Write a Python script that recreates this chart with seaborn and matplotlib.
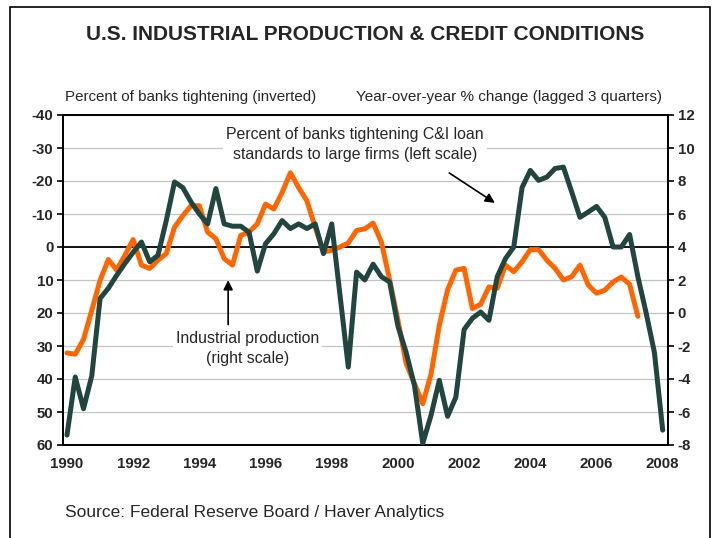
import numpy as np
import pandas as pd
import matplotlib
matplotlib.use("Agg")
import matplotlib.pyplot as plt
import seaborn as sns
from matplotlib.patches import Rectangle

# ==========================================
# DATA (quarterly)
# ==========================================

start_year = 1990

# Percent of banks tightening C&I loan standards (left scale, inverted)
banks_tightening = [
    57, 39.4, 49, 39, 15.6, 12.5, 8.6, 5, 1.6, -1.5,
    4.5, 2.5, -8, -19.7, -18, -13.6, -10, -7, -17.7, -7,
    -6.3, -6.3, -4.5, 7.3, -1, -4, -8, -5.6, -7, -5.6,
    -7, 2, -7, 14.6, 36.4, 7.6, 10, 5.2, 9, 10.6,
    24, 32, 42, 59.5, 51, 40.4, 51.3, 45.5, 25, 21.6,
    19.7, 22.2, 9, 3.5, 0, -18, -23.2, -20.2, -21.2, -23.8,
    -24.2, -16.7, -9, -10.6, -12.3, -9, 0, 0, -3.8, 9,
    20, 32, 55.5,
]

# Industrial production, y/y % change lagged 3 quarters (right scale)
industrial_production = [
    -2.42, -2.5, -1.6, 0.16, 1.98, 3.24, 2.6, 3.5, 4.45, 2.9,
    2.7, 3.2, 3.6, 5.2, 5.9, 6.5, 6.5, 4.9, 4.5, 3.3,
    2.9, 4.7, 4.9, 5.4, 6.6, 6.3, 7.3, 8.5, 7.6, 6.8,
    5.2, 3.7, 3.8, 4.0, 4.24, 5.0, 5.1, 5.45, 4.3, 2.0,
    -0.44, -3.07, -4.28, -5.5, -3.7, -0.75, 1.4, 2.6, 2.7, 0.27,
    0.53, 1.58, 1.5, 2.9, 2.5, 3.1, 3.84, 3.84, 3.2, 2.7,
    2.0, 2.2, 2.9, 1.7, 1.2, 1.38, 1.88, 2.18, 1.74, -0.2,
]

left_ticks = [-40, -30, -20, -10, 0, 10, 20, 30, 40, 50, 60]
right_ticks = [12, 10, 8, 6, 4, 2, 0, -2, -4, -6, -8]
year_ticks = [1990, 1992, 1994, 1996, 1998, 2000, 2002, 2004, 2006, 2008]

banks_df = pd.DataFrame({
    'date': start_year + np.arange(len(banks_tightening)) / 4,
    'value': banks_tightening,
})
ip_df = pd.DataFrame({
    'date': start_year + np.arange(len(industrial_production)) / 4,
    'value': industrial_production,
})

# ==========================================
# STYLE
# ==========================================

sns.set_style("white")
plt.rcParams['font.family'] = ['Liberation Sans', 'DejaVu Sans']
plt.rcParams['axes.unicode_minus'] = False

green = '#234540'
orange = '#FF6600'

W, H = 712, 538
fig = plt.figure(figsize=(W / 100, H / 100), dpi=100)

# axes box in pixels: x 63..668, y 115..445
ax2 = fig.add_axes([63 / W, 1 - 445 / H, (668 - 63) / W, (445 - 115) / H])
ax = ax2.twinx()
ax.yaxis.tick_left()
ax2.yaxis.tick_right()

# ==========================================
# RIGHT SCALE (bottom layer): grid, zero line, orange
# ==========================================

for t in right_ticks:
    if t != 4:
        ax2.axhline(t, color='#C4C4C4', lw=0.9, zorder=0)
ax2.axhline(4, color='black', lw=1.3, zorder=1)

sns.lineplot(data=ip_df, x='date', y='value', ax=ax2, color=orange,
             lw=3.6, zorder=3, legend=False)
ax2.set_ylim(-8, 12)
ax2.set_yticks(right_ticks)

# ==========================================
# LEFT SCALE (top layer): green, inverted
# ==========================================

sns.lineplot(data=banks_df, x='date', y='value', ax=ax, color=green,
             lw=3.6, zorder=4, legend=False)
ax.set_ylim(60, -40)
ax.set_yticks(left_ticks)

ax.set_zorder(ax2.get_zorder() + 1)
ax.patch.set_visible(False)

ax.set_xlim(1989.88, 2008.16)
ax2.set_xlim(1989.88, 2008.16)
ax2.set_xticks(year_ticks)

for a in (ax, ax2):
    a.set_xlabel('')
    a.set_ylabel('')
    for s in a.spines.values():
        s.set_color('black')
        s.set_linewidth(1.3)

ax.tick_params(axis='y', which='both', left=True, right=False,
               direction='out', length=4, width=1.2, color='black', pad=3)
ax2.tick_params(axis='y', which='both', right=True, left=False,
                direction='out', length=4, width=1.2, color='black', pad=3)
ax2.tick_params(axis='x', length=0, pad=9)
ax.tick_params(axis='x', length=0, labelbottom=False)

for lab in ax.get_yticklabels() + ax2.get_yticklabels() + ax2.get_xticklabels():
    lab.set_fontweight('bold')
    lab.set_fontsize(10.8)

# ==========================================
# ANNOTATIONS
# ==========================================

ax2.text(1998.7, 10.2,
         'Percent of banks tightening C&I loan\nstandards to large firms (left scale)',
         ha='center', va='center', fontsize=11.4, linespacing=1.4,
         bbox=dict(facecolor='white', edgecolor='none', pad=2), zorder=2)
ax.annotate('', xy=(2003.0, -12.9), xytext=(2001.48, -22.9),
            arrowprops=dict(arrowstyle='-|>', color='black', lw=1.2,
                            mutation_scale=14))

ax2.text(1995.45, -2.14, 'Industrial production\n(right scale)',
         ha='center', va='center', fontsize=11.4, linespacing=1.4,
         bbox=dict(facecolor='white', edgecolor='none', pad=2), zorder=2)
ax2.annotate('', xy=(1994.87, 2.16), xytext=(1994.87, -0.87),
             arrowprops=dict(arrowstyle='-|>', color='black', lw=1.2,
                             mutation_scale=14))

# ==========================================
# TITLES AND FRAME
# ==========================================

fig.text(365 / W, 1 - 35 / H, 'U.S. INDUSTRIAL PRODUCTION & CREDIT CONDITIONS',
         ha='center', va='center', fontsize=15, fontweight='bold')
fig.text(65 / W, 1 - 97 / H, 'Percent of banks tightening (inverted)',
         ha='left', va='center', fontsize=10.9)
fig.text(662 / W, 1 - 97 / H, 'Year-over-year % change (lagged 3 quarters)',
         ha='right', va='center', fontsize=11)
fig.text(65 / W, 1 - 512 / H, 'Source: Federal Reserve Board / Haver Analytics',
         ha='left', va='center', fontsize=12.5)

fig.patches.append(Rectangle((10 / W, -0.05), 700 / W, 1.05 - 7 / H,
                             transform=fig.transFigure, fill=False,
                             edgecolor='black', lw=1.2))

fig.savefig('out.png', dpi=100)
